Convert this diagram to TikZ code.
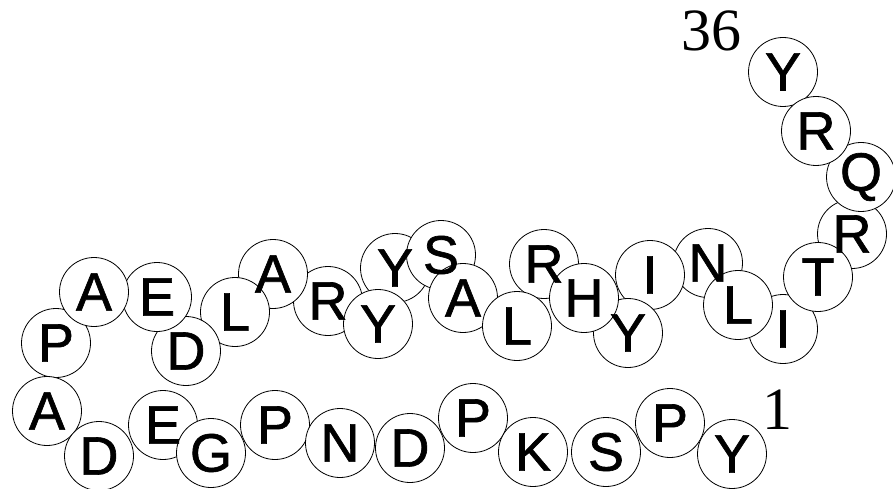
\documentclass[tikz,border=0pt]{standalone}
\usepackage{fontspec}
\setmainfont{Liberation Sans}
\newfontfamily\resfont[FakeBold=1.2]{Liberation Sans}
\newfontfamily\numfont{Liberation Serif}
\begin{document}
\begin{tikzpicture}[x=1pt,y=-1pt,
  res/.style={circle,draw=black,fill=white,line width=0.8pt,minimum size=69pt,inner sep=0pt},
  lett/.style={inner sep=0pt,font=\resfont\fontsize{54}{54}\selectfont},
  num/.style={inner sep=0pt,font=\numfont\fontsize{60}{60}\selectfont}]
\useasboundingbox (0,0) rectangle (893,489);
% circles, in an order that stacks the overlaps as in the reference
\node[res] (r36) at (783,72) {};
\node[res] (r35) at (852,234) {};
\node[res] (r34) at (861,177) {};
\node[res] (r33) at (816,131) {};
\node[res] (r31) at (783,329) {};
\node[res] (r32) at (818,277) {};
\node[res] (r29) at (708,263) {};
\node[res] (r30) at (738,305) {};
\node[res] (r28) at (650,275) {};
\node[res] (r27) at (628,333) {};
\node[res] (r25) at (544,264) {};
\node[res] (r26) at (584,298) {};
\node[res] (r21) at (395,268) {};
\node[res] (r22) at (441,255) {};
\node[res] (r23) at (463,298) {};
\node[res] (r24) at (517,326) {};
\node[res] (r19) at (328,301) {};
\node[res] (r20) at (378,324) {};
\node[res] (r18) at (273,274) {};
\node[res] (r17) at (235,312) {};
\node[res] (r16) at (186,351) {};
\node[res] (r15) at (157,297) {};
\node[res] (r13) at (56,343) {};
\node[res] (r14) at (94,292) {};
\node[res] (r12) at (47,411) {};
\node[res] (r11) at (99,456) {};
\node[res] (r10) at (163,425) {};
\node[res] (r9) at (211,453) {};
\node[res] (r8) at (275,425) {};
\node[res] (r7) at (340,443) {};
\node[res] (r6) at (410,448) {};
\node[res] (r5) at (473,418) {};
\node[res] (r4) at (533,452) {};
\node[res] (r3) at (606,452) {};
\node[res] (r2) at (670,423) {};
\node[res] (r1) at (732,454) {};
% residue letters, drawn above all circles
\foreach \i/\t in {1/Y,2/P,3/S,4/K,5/P,6/D,7/N,8/P,9/G,10/E,11/D,12/A,
  13/P,14/A,15/E,16/D,17/L,18/A,19/R,20/Y,21/Y,22/S,23/A,24/L,25/R,26/H,
  27/Y,28/I,29/N,30/L,31/I,32/T,33/R,34/Q,35/R,36/Y}
  \node[lett] (t\i) at (r\i) {\t};
\node[num] (n36) at (711,31) {36};
\node[num] (n1) at (777,410) {1};
\end{tikzpicture}
\end{document}
